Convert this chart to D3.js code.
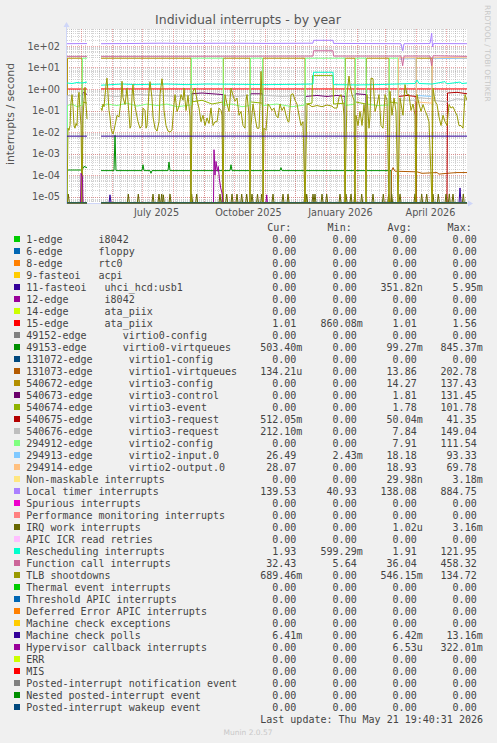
<!DOCTYPE html>
<html><head><meta charset="utf-8">
<script src="https://cdn.jsdelivr.net/npm/d3@7"></script>
<style>
body{margin:0;background:#f0f0f0;}
svg{display:block;}
text{white-space:pre;}
</style></head><body>
<svg id="c" width="497" height="743"></svg>
<script>
// ---------------- DATA ----------------
const chartTitle = "Individual interrupts - by year";
const yUnit = "interrupts / second";
const startDate = new Date(2025, 3, 17, 12);   // left edge of the 400-day window
const spanDays = 400;
const yTicks = [1e2, 1e1, 1e0, 1e-1, 1e-2, 1e-3, 1e-4, 1e-5];
const yTickLabels = ["1e+02","1e+01","1e+00","1e-01","1e-02","1e-03","1e-04","1e-05"];
const xTickDates = [new Date(2025,6,16), new Date(2025,9,16), new Date(2026,0,16), new Date(2026,3,16)];
const xTickLabels = ["July 2025","October 2025","January 2026","April 2026"];

const legendNames = [
"1-edge      i8042","6-edge      floppy","8-edge      rtc0","9-fasteoi   acpi",
"11-fasteoi   uhci_hcd:usb1","12-edge      i8042","14-edge      ata_piix","15-edge      ata_piix",
"49152-edge      virtio0-config","49153-edge      virtio0-virtqueues",
"131072-edge      virtio1-config","131073-edge      virtio1-virtqueues",
"540672-edge      virtio3-config","540673-edge      virtio3-control","540674-edge      virtio3-event",
"540675-edge      virtio3-request","540676-edge      virtio3-request",
"294912-edge      virtio2-config","294913-edge      virtio2-input.0","294914-edge      virtio2-output.0",
"Non-maskable interrupts","Local timer interrupts","Spurious interrupts","Performance monitoring interrupts",
"IRQ work interrupts","APIC ICR read retries","Rescheduling interrupts","Function call interrupts",
"TLB shootdowns","Thermal event interrupts","Threshold APIC interrupts","Deferred Error APIC interrupts",
"Machine check exceptions","Machine check polls","Hypervisor callback interrupts","ERR","MIS",
"Posted-interrupt notification event","Nested posted-interrupt event","Posted-interrupt wakeup event"];
const legendColors = ["#00CC00","#0066B3","#FF8000","#FFCC00","#330099","#990099","#CCFF00","#FF0000","#808080",
"#008F00","#00487D","#B35A00","#B38F00","#6B006B","#8FB300","#B30000","#BEBEBE",
"#80FF80","#80C9FF","#FFC080","#FFE680","#AA80FF","#EE00CC","#FF8080","#666600","#FFBFFF","#00FFCC","#CC6699","#999900",
"#00CC00","#0066B3","#FF8000","#FFCC00","#330099","#990099","#CCFF00","#FF0000","#808080","#008F00","#00487D"];
const curVals = ["0.00","0.00","0.00","0.00","0.00","0.00","0.00","1.01","0.00","503.40m","0.00","134.21u","0.00","0.00","0.00","512.05m","212.10m","0.00","26.49","28.07","0.00","139.53","0.00","0.00","0.00","0.00","1.93","32.43","689.46m","0.00","0.00","0.00","0.00","6.41m","0.00","0.00","0.00","0.00","0.00","0.00"];
const minVals = ["0.00","0.00","0.00","0.00","0.00","0.00","0.00","860.08m","0.00","0.00","0.00","0.00","0.00","0.00","0.00","0.00","0.00","0.00","2.43m","0.00","0.00","40.93","0.00","0.00","0.00","0.00","599.29m","5.64","0.00","0.00","0.00","0.00","0.00","0.00","0.00","0.00","0.00","0.00","0.00","0.00"];
const avgVals = ["0.00","0.00","0.00","0.00","351.82n","0.00","0.00","1.01","0.00","99.27m","0.00","13.86","14.27","1.81","1.78","50.04m","7.84","7.91","18.18","18.93","29.98n","138.08","0.00","0.00","1.02u","0.00","1.91","36.04","546.15m","0.00","0.00","0.00","0.00","6.42m","6.53u","0.00","0.00","0.00","0.00","0.00"];
const maxVals = ["0.00","0.00","0.00","0.00","5.95m","0.00","0.00","1.56","0.00","845.37m","0.00","202.78","137.43","131.45","101.78","41.35","149.04","111.54","93.33","69.78","3.18m","884.75","0.00","0.00","3.16m","0.00","121.95","458.32","134.72","0.00","0.00","0.00","0.00","13.16m","322.01m","0.00","0.00","0.00","0.00","0.00"];

// series samples: [day offset from startDate, value]; null = no data (gap)
const zeroSpan = [[0,0],[20,0],[20.5,null],[34,0],[400,0]];
const irq15 = [[0,1.0],[20,1.0],[20.5,null],[34,1.01],[400,1.01]];
const virtio0vq = [[0,1.7e-4],[15,1.7e-4],[17,2.5e-4],[20,2.2e-4],[20.5,null],[34,1.6e-4],[47,1.6e-4],[48,7e-3],[49,1.6e-4],[75,1.6e-4],[76,3e-4],[77,1.6e-4],[83,1.6e-4],[84,1.2e-4],[85,1.6e-4],[101,1.6e-4],[102,4e-4],[103,1.6e-4],[163,1.6e-4],[164,3e-4],[165,1.6e-4],[213,1.6e-4],[214,2.2e-4],[215,1.6e-4],[324,1.6e-4],[324.5,0],[400,0]];
const virtio1vq = [[0,0],[20,0],[20.5,null],[34,0],[324,0],[324.5,1.5e-4],[326,2.2e-4],[328,1.5e-4],[350,1.4e-4],[355,1.2e-4],[370,1.3e-4],[372,1.1e-4],[380,1.2e-4],[390,1.3e-4],[400,1.3e-4]];
const virtio3cfg = [[0,0],[0.5,27],[15,27],[15.5,0],[20,0],[20.5,null],[34,27],[124,27],[124.5,0],[156,0],[156.5,27],[183,27],[183.5,0],[195.5,0],[196,27],[238,27],[238.5,0],[278,0],[278.5,27],[288,27],[288.5,0],[299,0],[299.5,27],[322,27],[322.5,0],[349,0],[349.5,27],[365,27],[365.5,0],[400,0]];
const virtio3ctl = [[0,0],[15,0],[15.5,0.6],[17,0.7],[20,0.55],[20.5,null],[34,0],[124,0],[124.5,0.6],[135,0.65],[145,0.6],[156,0.55],[156.5,0],[183,0],[183.5,0.6],[195.5,0.6],[196,0],[238,0],[238.5,0.45],[250,0.5],[260,0.45],[270,0.5],[278,0.45],[278.5,0],[288,0],[288.5,0.6],[299,0.55],[299.5,0],[400,0]];
const virtio3evt = [[0,0],[15,0],[15.5,0.25],[20,0.22],[20.5,null],[34,0],[124,0],[124.5,0.25],[135,0.3],[145,0.2],[156,0.25],[156.5,0],[183,0],[183.5,0.25],[195.5,0.22],[196,0],[238,0],[238.5,0.2],[245,0.22],[245.5,4.2],[266,4.2],[266.5,0.2],[278,0.22],[278.5,0],[288,0],[288.5,0.25],[299,0.2],[299.5,0],[322,0],[322.5,0.25],[331,0.22],[331.5,0],[400,0]];
const virtio3req1 = [[0,0],[20,0],[20.5,null],[34,0],[331,0],[331.5,0.45],[340,0.5],[349,0.45],[349.5,0],[380,0],[380.5,0.65],[390,0.7],[400,0.6]];
const virtio3req2 = [[0,0],[0.5,0.5],[8,0.45],[15,0.5],[15.5,0],[20,0],[20.5,null],[34,0.5],[50,0.45],[70,0.55],[90,0.5],[110,0.45],[124,0.5],[124.5,0],[156,0],[156.5,0.5],[170,0.45],[183,0.5],[183.5,0],[195.5,0],[196,0.5],[215,0.45],[238,0.5],[238.5,0],[278,0],[278.5,0.45],[288,0.5],[288.5,0],[299,0],[299.5,0.4],[322,0.35],[322.5,0],[331,0],[331.5,0.3],[349,0.3],[349.5,0.4],[365,0.35],[365.5,0.3],[380,0.25],[390,0.35],[400,0.3]];
const virtio2cfg = [[0,0],[0.5,0.17],[5,0.2],[10,0.15],[15,0.18],[15.5,27],[20,27],[20.5,null],[34,0.15],[40,0.2],[50,0.17],[60,0.22],[70,0.16],[80,0.2],[90,0.17],[100,0.2],[110,0.15],[124,0.18],[124.5,27],[156,27],[156.5,0.17],[165,0.2],[175,0.15],[183,0.17],[183.5,27],[195.5,27],[196,0.17],[210,0.2],[225,0.15],[238,0.18],[238.5,27],[278,27],[278.5,0.17],[288,0.2],[288.5,27],[299,27],[299.5,0.2],[310,0.17],[322,0.18],[322.5,27],[331,27],[331.5,0],[400,0]];
const virtio2in = [[0,0],[20,0],[20.5,null],[34,0],[331,0],[331.5,25],[349,26],[349.5,0.5],[365,0.45],[365.5,26],[400,26.5]];
const virtio2out = [[0,0],[20,0],[20.5,null],[34,0],[331,0],[331.5,28],[349,28],[349.5,0.25],[365,0.22],[365.5,28],[380,29],[400,28]];
const localTimer = [[0,128],[20,130],[20.5,null],[34,128],[60,130],[93,135],[120,132],[160,135],[200,132],[246,135],[246.5,184],[266,184],[266.5,132],[300,130],[334,128],[335.7,60],[337,128],[363,130],[364.7,400],[365.5,90],[366.5,130],[400,128]];
const resched = [[0,1.9],[5,1.8],[10,2.0],[15,1.9],[20,2.1],[20.5,null],[34,1.5],[45,1.6],[55,1.7],[70,1.6],[85,1.65],[100,1.7],[120,1.6],[140,1.7],[170,1.65],[200,1.6],[230,1.65],[246,1.7],[246.5,6.0],[266,6.0],[266.5,1.6],[290,1.55],[310,1.6],[330,1.7],[348,1.8],[350,2.6],[352,1.8],[365,1.7],[378,2.2],[380,1.75],[393,2.1],[395,1.8],[400,1.9]];
const funcCall = [[0,33],[20,33],[20.5,null],[34,33],[246,34],[246.5,60],[266,60],[266.5,34],[334,34],[335.7,12],[337,34],[363,34],[364.7,12],[366,35],[400,33]];
const tlb = [[0,0],[1,0.015],[2,0.012],[3,0.02],[4,0.25],[5,0.55],[6,0.15],[7,0.02],[8,0.015],[9,0.025],[10,0.02],[11,0.3],[12,0.7],[13,0.1],[14,0.02],[15,0],[16,0.05],[17,0.3],[18,1.2],[19,0.2],[20,0.04],[20.5,null],
[34,0.13],[35,0.1],[36,0.2],[37,0.15],[38,0.5],[39,1.5],[40,3.2],[41,0.6],[42,0.1],[43,0.05],[44,0.015],[45,0.01],[46,0.008],[47,0.012],[48,0.02],[50,0.06],[52,0.05],[54,0.3],[55,2.3],[56,0.4],[58,0.19],[60,1.1],[62,0.064],[63,0.015],[64,0.02],[65,0.5],[66,1.6],[67,0.3],[69,0.09],[71,0.03],[73,0.015],[75,0.02],[76,0.13],[78,0.1],[79,0.015],[80,0.02],[82,0.8],[83,2.2],[85,0.38],[86,0.05],[88,0.015],[90,0.011],[92,0.03],[93,0.55],[95,3],[96,1.2],[97,0.1],[99,0.02],[101,0.011],[103,0.01],[105,0.012],[107,0.2],[108,0.55],[110,0.09],[112,0.15],[114,0.55],[116,0.3],[117,1.1],[119,0.1],[121,0.5],[123,0.05],[124,0],
[125,0.1],[126,0.78],[128,1.1],[130,0.3],[132,0.13],[134,0.03],[136,0.06],[138,0.02],[140,0.045],[142,0.025],[144,0.13],[146,0.02],[148,0.03],[150,0.03],[152,0.13],[154,0.1],[155,0.06],[156,0],[157,0.1],[158,0.55],[160,0.2],[162,0.09],[164,1.1],[166,0.5],[168,0.27],[170,0.38],[172,0.06],[174,0.09],[176,0.02],[178,0.015],[179,0.3],[180,0.55],[182,0.06],[183,0],[184,0.02],[186,0.2],[188,0.05],[190,0.015],[192,0.015],[193.5,0.8],[194,6.6],[195,0.5],[195.5,0.06],[196,0],
[197,0.015],[199,0.012],[201,0.2],[203,0.15],[205,0.1],[207,0.13],[209,0.06],[211,0.045],[213,0.2],[215,0.1],[217,0.15],[219,0.06],[221,0.03],[222,0.03],[224,0.55],[226,0.6],[228,0.3],[230,0.2],[232,0.06],[234,0.02],[236,0.03],[238,0],[240,0.19],[242,0.19],[245,0.15],[250,0.17],[255,0.15],[260,0.18],[265,0.16],[267,0.13],[270,0.13],[272,0.4],[274,0.55],[276,0.2],[277,0.06],[278,0],[280,0.55],[282,4],[283,1.5],[285,0.55],[287,0.3],[288,0],[289,0.06],[291,0.02],[293,0.09],[295,0.02],[297,0.19],[298,0.06],[299,0],
[300,0.55],[302,0.015],[303,0.05],[304,3.2],[306,3],[308,0.09],[310,0.19],[312,0.55],[314,0.02],[316,0.015],[318,0.55],[320,0.3],[322,0],[323,0.78],[325,0.06],[327,0.38],[329,0.09],[331,0],[333,0.38],[336,0.06],[338,1.6],[340,0.55],[342,0.55],[344,0.1],[346,0.2],[348,0.06],[349,0],[350,0.55],[352,0.2],[354,0.09],[356,0.19],[358,0.1],[360,0.06],[362,0.03],[365,0],[366,1.1],[368,0.27],[370,0.19],[372,0.05],[374,0.02],[376,0.06],[378,0.03],[380,0.02],[382,0.19],[384,0.13],[386,0.15],[388,0.09],[390,0.06],[392,0.02],[394,0.02],[396,0.015],[398,0.55],[400,0.3]];
const mcPolls = [[0,0.0064],[20,0.0064],[20.5,null],[34,0.0064],[400,0.0064]];
// sparse spikes above zero: [day, value]
const iwiSpikes = [[1.3,1.3e-5],[61.3,1.3e-5],[71.3,1.3e-5],[86,1.3e-5],[92,1.3e-5],[94.7,1.3e-5],[96.3,1.2e-5],[103,1.3e-5],[124.7,1.3e-5],[129.7,1.3e-5],[153,1.3e-5],[155.7,1.2e-5],[159.7,1.3e-5],[165,1.3e-5],[170,1.3e-5],[174.7,1.3e-5],[179.7,1.3e-5],[185,1.3e-5],[190.5,1.3e-5],[194.7,1.3e-5],[206,1.3e-5],[216,1.3e-5],[221,1.3e-5],[238,1.3e-5],[239.7,1.3e-5],[246,1.3e-5],[248,1.3e-5],[255,1.3e-5],[259.7,1.3e-5],[273,1.3e-5],[279,1.3e-5],[284,1.3e-5],[288,1.3e-5],[294.7,1.3e-5],[306,1.3e-5],[316.3,1.3e-5],[321.7,1.3e-5],[324.7,1.3e-5],[333,1.3e-5],[348,1.3e-5],[354.7,1.3e-5],[359.7,1.3e-5],[366,1.3e-5],[371.3,1.3e-5],[379,1.3e-5],[382.3,1.3e-5],[386,1.3e-5],[396.3,1.3e-5]];
const usbSpikes = [[43,1.2e-5],[393,2.5e-5]];
const hypervisor = [[0,0],[13.5,0],[14,1.2e-4],[15.5,8e-5],[16,0],[20,0],[20.5,null],[34,0],[146.5,0],[147,1.5e-3],[148,1.0e-4],[149,4.3e-4],[150.3,1.5e-4],[151.3,2.5e-4],[152.3,7e-5],[153.7,2.5e-5],[155,1.45e-5],[156,0],[199,0],[199.7,1.2e-5],[200.4,0],[400,0]];

// ---------------- DRAWING ----------------
const svg = d3.select("#c");
const W = 497, H = 743;
const PL = 67, PR = 467, PT = 29, PB = 203;
const DAY = 864e5;
const endDate = new Date(+startDate + spanDays*DAY);
const x = d3.scaleTime().domain([startDate, endDate]).range([PL, PR]);
// log scale: 1e+02 at 46px, 21.5px per decade
const y = d3.scaleLog().domain([Math.pow(10, -5 - 6.5/21.5), Math.pow(10, 2 + 17/21.5)]).range([PB, PT]);
const dx = d => x(new Date(+startDate + d*DAY));
const yv = v => v <= 0 ? PB : y(v);

svg.append("rect").attr("width", W).attr("height", H).attr("fill", "#f0f0f0");
svg.append("rect").attr("x", PL).attr("y", PT).attr("width", PR-PL).attr("height", PB-PT).attr("fill", "#ffffff");

// grid
const minorCol = "rgba(143,143,143,0.38)";
const majorCol = "rgba(222,79,79,0.5)";
const gGrid = svg.append("g");
for (let e = -6; e <= 3; e++) {
  for (let m = 1; m <= 9; m++) {
    const v = m * Math.pow(10, e);
    const yy = y(v);
    if (yy < PT || yy > PB) continue;
    const py = Math.round(yy) + 0.5;
    gGrid.append("line").attr("x1", PL).attr("x2", PR).attr("y1", py).attr("y2", py)
      .attr("stroke", m === 1 ? majorCol : minorCol)
      .attr("stroke-dasharray", "1,1");
  }
}
d3.timeMonday.range(startDate, endDate).forEach(t => {
  const px = Math.round(x(t)) + 0.5;
  gGrid.append("line").attr("x1", px).attr("x2", px).attr("y1", PT).attr("y2", PB)
    .attr("stroke", minorCol).attr("stroke-dasharray", "1,1");
});
d3.timeMonth.range(startDate, endDate).forEach(t => {
  const px = Math.round(x(t)) + 0.5;
  gGrid.append("line").attr("x1", px).attr("x2", px).attr("y1", PT).attr("y2", PB)
    .attr("stroke", majorCol).attr("stroke-dasharray", "1,1");
});

// axes
const axisCol = "#CFD6F8";
svg.append("line").attr("x1", PL-0.5).attr("x2", PR+2).attr("y1", PB+0.5).attr("y2", PB+0.5).attr("stroke", axisCol);
svg.append("line").attr("x1", PL-0.5).attr("x2", PL-0.5).attr("y1", PB+1).attr("y2", PT-2).attr("stroke", axisCol);
svg.append("path").attr("d", `M${PR+1},${PB-2.5}L${PR+6},${PB+0.5}L${PR+1},${PB+3.5}Z`).attr("fill", axisCol);
svg.append("path").attr("d", `M${PL-3.5},${PT-2}L${PL-0.5},${PT-7}L${PL+2.5},${PT-2}Z`).attr("fill", axisCol);

// series lines
svg.append("clipPath").attr("id", "clip").append("rect").attr("x", PL).attr("y", PT).attr("width", PR-PL).attr("height", PB-PT+0.5);
const gLines = svg.append("g").attr("clip-path", "url(#clip)");
const line = d3.line().defined(d => d[1] !== null).x(d => dx(d[0])).y(d => yv(d[1]));

function spikesToSeries(spikes) {
  const pts = [[0,0],[20,0],[20.5,null],[34,0],[400,0]];
  spikes.forEach(s => { pts.push([s[0]-1, 0], s, [s[0]+1, 0]); });
  return pts.sort((a,b)=>a[0]-b[0]);
}

const seriesByIndex = {
  4: spikesToSeries(usbSpikes),
  7: irq15, 9: virtio0vq, 11: virtio1vq, 12: virtio3cfg, 13: virtio3ctl, 14: virtio3evt,
  15: virtio3req1, 16: virtio3req2, 17: virtio2cfg, 18: virtio2in, 19: virtio2out,
  21: localTimer, 24: spikesToSeries(iwiSpikes), 26: resched, 27: funcCall, 28: tlb,
  33: mcPolls, 34: hypervisor
};
legendNames.forEach((n, i) => {
  const data = seriesByIndex[i] || zeroSpan;
  gLines.append("path").datum(data).attr("d", line)
    .attr("fill", "none").attr("stroke", legendColors[i]).attr("stroke-width", 1)
    .attr("stroke-linejoin", "round");
});

// tick labels
const tickCol = "#555555";
yTicks.forEach((v, i) => {
  svg.append("text").attr("x", 60).attr("y", y(v) + 3.5).attr("text-anchor", "end")
    .attr("font-family", "DejaVu Sans").attr("font-size", 9.7).attr("fill", tickCol).text(yTickLabels[i]);
});
xTickDates.forEach((t, i) => {
  svg.append("text").attr("x", x(t)).attr("y", 216).attr("text-anchor", "middle")
    .attr("font-family", "DejaVu Sans").attr("font-size", 9.7).attr("fill", tickCol).text(xTickLabels[i]);
});

// title, unit, watermark
svg.append("text").attr("x", 248).attr("y", 23.5).attr("text-anchor", "middle")
  .attr("font-family", "DejaVu Sans").attr("font-size", 12.5).attr("fill", "#555555").text(chartTitle);
svg.append("text").attr("transform", "translate(13.5,114) rotate(-90)").attr("text-anchor", "middle")
  .attr("font-family", "DejaVu Sans").attr("font-size", 10.8).attr("fill", "#555555").text(yUnit);
svg.append("text").attr("transform", "translate(485,5) rotate(90)").attr("text-anchor", "start")
  .attr("font-family", "DejaVu Sans").attr("font-size", 7.5).attr("fill", "#c8c8c8").text("RRDTOOL / TOBI OETIKER");

// legend
const mono = "DejaVu Sans Mono";
const legCol = "#444444";
const colRight = [296.3, 356.7, 416.7, 476.7];
const headers = ["Cur:", "Min:", "Avg:", "Max:"];
headers.forEach((h, j) => {
  svg.append("text").attr("x", colRight[j] - 5).attr("y", 231).attr("text-anchor", "end")
    .attr("font-family", mono).attr("font-size", 10).attr("fill", legCol).text(h);
});
function splitVal(s) { const m = s.match(/^([0-9.]+)([a-zA-Z]?)$/); return [m[1], m[2]]; }
legendNames.forEach((n, i) => {
  const by = 243 + 12*i;
  svg.append("rect").attr("x", 14).attr("y", by - 7).attr("width", 6).attr("height", 6).attr("fill", legendColors[i]);
  svg.append("text").attr("x", 26.3).attr("y", by).attr("font-family", mono).attr("font-size", 10)
    .attr("fill", legCol).text(n);
  [curVals[i], minVals[i], avgVals[i], maxVals[i]].forEach((s, j) => {
    const [num, suf] = splitVal(s);
    svg.append("text").attr("x", colRight[j]).attr("y", by).attr("text-anchor", "end")
      .attr("font-family", mono).attr("font-size", 10).attr("fill", legCol).text(num);
    if (suf) svg.append("text").attr("x", colRight[j]).attr("y", by)
      .attr("font-family", mono).attr("font-size", 10).attr("fill", legCol).text(suf);
  });
});
svg.append("text").attr("x", 483).attr("y", 723).attr("text-anchor", "end")
  .attr("font-family", mono).attr("font-size", 10).attr("fill", legCol).text("Last update: Thu May 21 19:40:31 2026");
svg.append("text").attr("x", 248).attr("y", 735).attr("text-anchor", "middle")
  .attr("font-family", "DejaVu Sans").attr("font-size", 7.5).attr("fill", "#c8c8c8").text("Munin 2.0.57");
</script>
</body></html>
